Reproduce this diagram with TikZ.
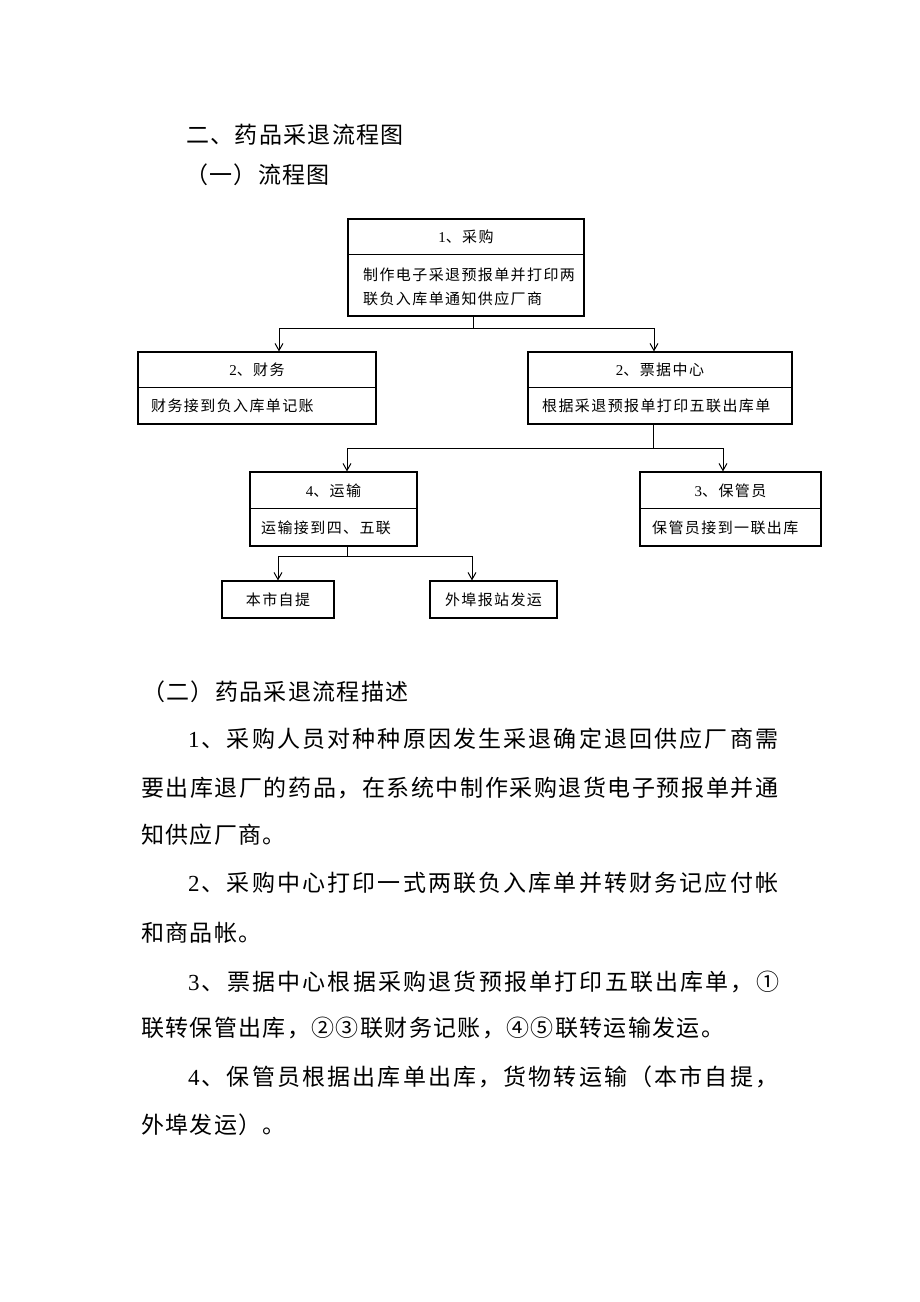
\documentclass[tikz,border=0pt]{standalone}
\usepackage{fontspec}
\setmainfont{Liberation Serif}
\newfontfamily\cjk{Noto Sans CJK SC}
\newfontfamily\cjkfc[LetterSpace=9.3]{Noto Sans CJK SC}
\newfontfamily\lsf{Liberation Serif}
\usetikzlibrary{arrows.meta}
\let\spreadend\relax
\def\spreadaux#1{\ifx\spreadend#1\else\hfil{#1}\expandafter\spreadaux\fi}
\newcommand\sline[2]{\makebox[#1pt][s]{\hskip 0pt plus -1fil\spreadaux#2\spreadend}}
\newcommand\fcfont{\cjkfc\fontsize{15}{18}\selectfont}
\newcommand\ptfont{\cjk\fontsize{23}{28}\selectfont}
\tikzset{
  fbox/.style={draw, line width=1.2pt, inner sep=0pt},
  divline/.style={line width=1.2pt},
  fhead/.style={inner sep=0pt, font=\fcfont},
  fbody/.style={inner sep=0pt, anchor=west, font=\fcfont},
  ptext/.style={inner sep=0pt, anchor=west, font=\ptfont},
  conn/.style={line width=1pt},
  arr/.style={line width=1pt, -{Straight Barb[length=7pt,width=8pt]}},
}
\begin{document}
\begin{tikzpicture}[x=1pt,y=-1pt]
\fill[white] (0,0) rectangle (920,1302);
\useasboundingbox (0,0) rectangle (920,1302);

% headings
\node[ptext] (h1) at (186,135) {\sline{217.8}{二、药品采退流程图}};
\node[ptext] (h2) at (185,175) {\sline{144.75}{（一）流程图}};

% flowchart boxes
\node[fbox, minimum width=236, minimum height=97] (b1) at (466,267.5) {};
\draw[divline] (b1.north west) ++(0,36) -- ++(236,0);
\node[fhead] (b1h) at (466,237) {{\lsf 1}、采购};
\node[fbody] (b1t1) at (363,275) {制作电子采退预报单并打印两};
\node[fbody] (b1t2) at (363,299) {联负入库单通知供应厂商};

\node[fbox, minimum width=238, minimum height=72] (fin) at (257,388) {};
\draw[divline] (fin.north west) ++(0,36) -- ++(238,0);
\node[fhead] (finh) at (257,370) {{\lsf 2}、财务};
\node[fbody] (fint) at (151,406) {财务接到负入库单记账};

\node[fbox, minimum width=264, minimum height=72] (pj) at (660,388) {};
\draw[divline] (pj.north west) ++(0,36) -- ++(264,0);
\node[fhead] (pjh) at (660,370) {{\lsf 2}、票据中心};
\node[fbody] (pjt) at (542,406) {根据采退预报单打印五联出库单};

\node[fbox, minimum width=167, minimum height=74] (ys) at (333.5,509) {};
\draw[divline] (ys.north west) ++(0,37) -- ++(167,0);
\node[fhead] (ysh) at (333.5,491) {{\lsf 4}、运输};
\node[fbody] (yst) at (261,527.5) {运输接到四、五联};

\node[fbox, minimum width=181, minimum height=74] (bg) at (730.5,509) {};
\draw[divline] (bg.north west) ++(0,37) -- ++(181,0);
\node[fhead] (bgh) at (730.5,491) {{\lsf 3}、保管员};
\node[fbody] (bgt) at (652,527.5) {保管员接到一联出库};

\node[fbox, minimum width=112, minimum height=37] (s1) at (278,599.5) {};
\node[fhead] (s1t) at (278,599.5) {本市自提};
\node[fbox, minimum width=127, minimum height=37] (s2) at (493.5,599.5) {};
\node[fhead] (s2t) at (493.5,599.5) {外埠报站发运};

% connectors
\coordinate (j1) at (473,328);
\coordinate (a1) at (279,328);
\coordinate (a2) at (654,328);
\draw[conn] (b1.south -| j1) -- (j1);
\draw[arr] (j1) -- (a1) -- (a1 |- fin.north);
\draw[arr] (j1) -- (a2) -- (a2 |- pj.north);

\coordinate (j2) at (653,448);
\coordinate (a3) at (347,448);
\coordinate (a4) at (723,448);
\draw[conn] (pj.south -| j2) -- (j2);
\draw[arr] (j2) -- (a3) -- (a3 |- ys.north);
\draw[arr] (j2) -- (a4) -- (a4 |- bg.north);

\coordinate (j3) at (347,556);
\coordinate (a5) at (278,556);
\coordinate (a6) at (472,556);
\draw[conn] (ys.south -| j3) -- (j3);
\draw[arr] (j3) -- (a5) -- (a5 |- s1.north);
\draw[arr] (j3) -- (a6) -- (a6 |- s2.north);

% description
\node[ptext] (h3) at (142,692) {\sline{266.5}{（二）药品采退流程描述}};
\node[ptext] (p1a) at (188,739) {\sline{590}{{\lsf 1}、采购人员对种种原因发生采退确定退回供应厂商需}};
\node[ptext] (p1b) at (141,788) {\sline{637}{要出库退厂的药品，在系统中制作采购退货电子预报单并通}};
\node[ptext] (p1c) at (141,835) {\sline{144.75}{知供应厂商。}};
\node[ptext] (p2a) at (188,883) {\sline{590}{{\lsf 2}、采购中心打印一式两联负入库单并转财务记应付帐}};
\node[ptext] (p2b) at (141,933) {\sline{120.4}{和商品帐。}};
\node[ptext] (p3a) at (188,982) {\sline{591}{{\lsf 3}、票据中心根据采购退货预报单打印五联出库单，①}};
\node[ptext] (p3b) at (141,1028) {\sline{583}{联转保管出库，②③联财务记账，④⑤联转运输发运。}};
\node[ptext] (p4a) at (188,1077) {\sline{590}{{\lsf 4}、保管员根据出库单出库，货物转运输（本市自提，}};
\node[ptext] (p4b) at (141,1125) {\sline{144.75}{外埠发运）。}};
\end{tikzpicture}
\end{document}
